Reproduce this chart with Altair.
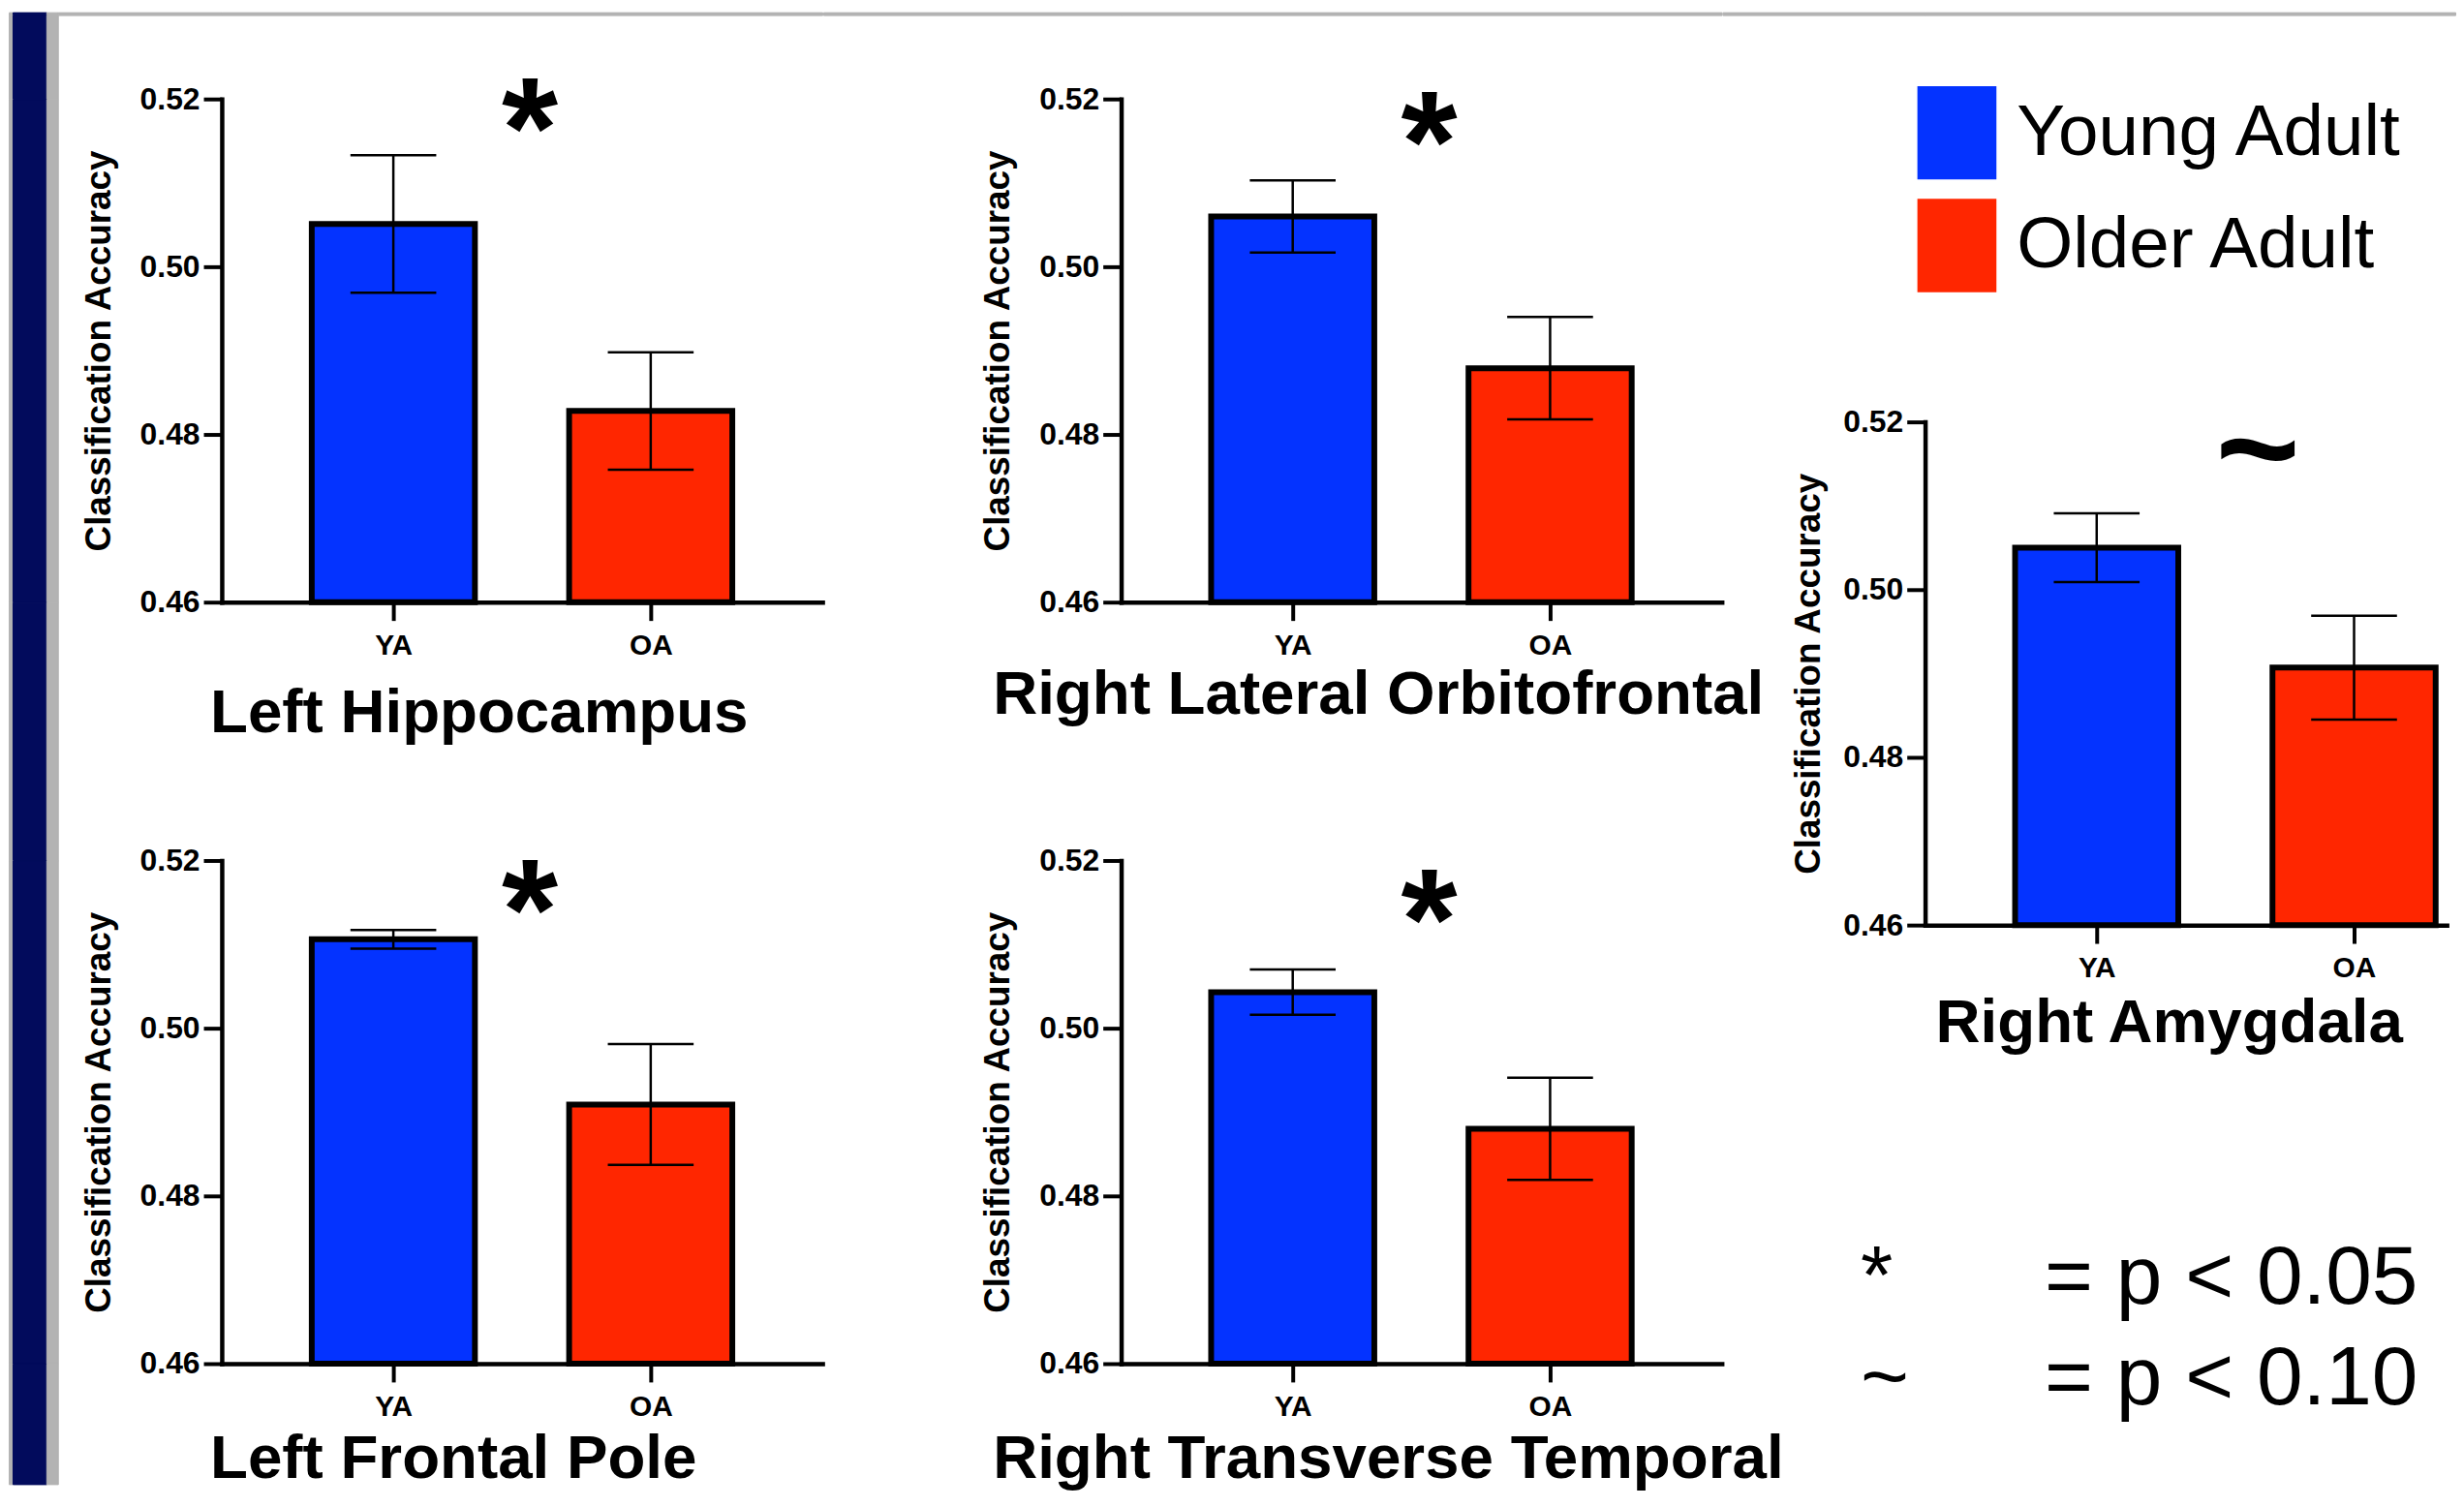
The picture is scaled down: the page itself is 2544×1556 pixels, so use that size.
import altair as alt
import pandas as pd

# ---------------- data ----------------
groups = ["YA", "OA"]
group_names = ["Young Adult", "Older Adult"]
group_colors = ["#0433ff", "#ff2600"]

regions = ["Left Hippocampus", "Right Lateral Orbitofrontal", "Right Amygdala",
           "Left Frontal Pole", "Right Transverse Temporal"]
ya_mean = [0.5051, 0.5060, 0.5050, 0.5106, 0.5043]
ya_sem = [0.0082, 0.0043, 0.0041, 0.0011, 0.0027]
oa_mean = [0.4828, 0.4879, 0.4907, 0.4909, 0.4880]
oa_sem = [0.0070, 0.0061, 0.0062, 0.0072, 0.0061]
sig_marks = ["*", "*", "~", "*", "*"]

key_symbols = ["*", "~"]
key_texts = ["= p < 0.05", "= p < 0.10"]

y_ticks = [0.46, 0.48, 0.50, 0.52]

# ---------------- layout / style ----------------
FONT = "Liberation Sans"
NAVY = "#020b5c"
GREY = "#b3b3b3"
PANEL_H = 522
PX_PER_UNIT = 267.0
X_MIN = 1 / 3
BAR_HALF = 0.317
CAP_HALF = 0.1667
P3_SHIFT = 335  # right-hand panel sits lower than the top row
TITLE_SIZE = 64

layout = {
    0: dict(xmax=2.667, tdx=-12, toff=74.5, sx=1.53, sy=0.52435, ssize=150, tpad=23),
    1: dict(xmax=2.667, tdx=-133, toff=55.5, sx=1.53, sy=0.52272, ssize=150, tpad=23),
    2: dict(xmax=2.36, tdx=11, toff=61.5, sx=1.626, sy=0.52478, ssize=150, tpad=16),
    3: dict(xmax=2.667, tdx=-12, toff=59, sx=1.53, sy=0.52199, ssize=150, tpad=23),
    4: dict(xmax=2.667, tdx=-133, toff=59, sx=1.53, sy=0.52085, ssize=150, tpad=23),
}

col_widths = [4, 35, 12, 170, 623, 309, 623, 210, 550]
row_heights = [3, 87, 522, 268, 522, 125]


def blank(w, h, fill=None):
    c = alt.Chart(pd.DataFrame({"k": [0]})).mark_point(
        opacity=0, size=0, strokeWidth=0).encode(x=alt.value(0), y=alt.value(0))
    if fill is not None:
        return c.properties(width=w, height=h,
                            view=alt.ViewBackground(fill=fill, stroke=fill, strokeWidth=1))
    return c.properties(width=w, height=h)


x_label_expr = "[" + ",".join(f"'{g}'" for g in groups) + "][datum.value - 1]"
legend_expr = (f"datum.label == '{groups[0]}' ? '{group_names[0]}' : '{group_names[1]}'")


def panel(i, show_legend=False, shift=0):
    L = layout[i]
    width = (L["xmax"] - X_MIN) * PX_PER_UNIT
    df = pd.DataFrame({"group": groups, "pos": [1, 2],
                       "mean": [ya_mean[i], oa_mean[i]],
                       "sem": [ya_sem[i], oa_sem[i]]})
    base = alt.Chart(df).transform_calculate(
        lo="datum.mean - datum.sem", hi="datum.mean + datum.sem",
        bx1=f"datum.pos - {BAR_HALF}", bx2=f"datum.pos + {BAR_HALF}",
        cx1=f"datum.pos - {CAP_HALF}", cx2=f"datum.pos + {CAP_HALF}")
    xs = alt.Scale(domain=[X_MIN, L["xmax"]], nice=False, zero=False)
    if shift:
        ys = alt.Scale(domain=[y_ticks[0], y_ticks[-1]], nice=False, zero=False,
                       range=[PANEL_H + shift, shift])
        x_axis = alt.Axis(values=[1, 2], labelExpr=x_label_expr, title=None, offset=shift)
    else:
        ys = alt.Scale(domain=[y_ticks[0], y_ticks[-1]], nice=False, zero=False)
        x_axis = alt.Axis(values=[1, 2], labelExpr=x_label_expr, title=None)
    y_axis = alt.Axis(values=y_ticks, format=".2f", title="Classification Accuracy",
                      titlePadding=L["tpad"])
    if show_legend:
        leg = alt.Legend(title=None, orient="none", legendX=-8, legendY=-6,
                         direction="vertical",
                         symbolType="M-1,-1.18H1V1.18H-1Z", symbolSize=6724,
                         symbolStrokeWidth=0, symbolOpacity=1,
                         labelFont=FONT, labelFontSize=75, labelFontWeight="normal",
                         labelColor="black", labelOffset=21, labelLimit=0,
                         rowPadding=19, padding=0, labelExpr=legend_expr)
    else:
        leg = None
    color = alt.Color("group:N", scale=alt.Scale(domain=groups, range=group_colors),
                      legend=leg)
    bars = base.mark_bar(stroke="black", strokeWidth=6).encode(
        x=alt.X("bx1:Q", scale=xs, axis=x_axis), x2="bx2:Q",
        y=alt.Y("mean:Q", scale=ys, axis=y_axis), y2=alt.datum(y_ticks[0]),
        color=color)
    rule = base.mark_rule(color="black", strokeWidth=2.5).encode(
        x="pos:Q", y="lo:Q", y2="hi:Q")
    cap_top = base.mark_rule(color="black", strokeWidth=2.5).encode(
        x="cx1:Q", x2="cx2:Q", y="hi:Q")
    cap_bot = base.mark_rule(color="black", strokeWidth=2.5).encode(
        x="cx1:Q", x2="cx2:Q", y="lo:Q")
    ann = alt.Chart(pd.DataFrame({"s": [sig_marks[i]]})).mark_text(
        fontSize=L["ssize"], fontWeight="bold", font=FONT, baseline="top",
        align="center", color="black").encode(
        x=alt.datum(L["sx"]), y=alt.datum(L["sy"]), text="s:N")
    return alt.layer(bars, rule, cap_top, cap_bot, ann).properties(
        width=width, height=PANEL_H,
        title=alt.TitleParams(text=regions[i], orient="bottom", anchor="start",
                              frame="group", dx=L["tdx"], offset=L["toff"],
                              baseline="alphabetic", fontSize=TITLE_SIZE,
                              fontWeight="bold", font=FONT, color="black"))


key_rows = []
for r, (s, t) in enumerate(zip(key_symbols, key_texts)):
    key_rows.append({"row": r, "col": "sym", "txt": s})
    key_rows.append({"row": r, "col": "desc", "txt": t})
key = alt.Chart(pd.DataFrame(key_rows)).mark_text(
    align="left", baseline="alphabetic", fontSize=86, font=FONT, color="black").encode(
    x=alt.X("col:N", scale=alt.Scale(type="point", domain=["sym", "desc"],
                                     range=[-67, 124], padding=0), axis=None),
    y=alt.Y("row:O", scale=alt.Scale(type="point", range=[460, 564], padding=0),
            axis=None),
    text="txt:N").properties(width=1, height=1)


def deco(h):
    return [blank(col_widths[0], h, GREY), blank(col_widths[1], h, NAVY),
            blank(col_widths[2], h, GREY)]


cells = []
# row 0: thin grey strip along the top
cells += deco(row_heights[0]) + [blank(w, row_heights[0], GREY) for w in col_widths[3:]]
# row 1: space above the top row
cells += deco(row_heights[1]) + [blank(1, 1) for _ in range(6)]
# row 2: top row of panels (right-hand panel is shifted down inside its cell)
cells += deco(row_heights[2]) + [blank(1, 1), panel(0), blank(1, 1), panel(1),
                                 blank(1, 1), panel(2, True, P3_SHIFT)]
# row 3: gap
cells += deco(row_heights[3]) + [blank(1, 1) for _ in range(6)]
# row 4: bottom row of panels + significance key
cells += deco(row_heights[4]) + [blank(1, 1), panel(3), blank(1, 1), panel(4),
                                 blank(1, 1), key]
# row 5: bottom
cells += deco(row_heights[5]) + [blank(1, 1) for _ in range(6)]

chart = alt.concat(*cells, columns=9, spacing=0, bounds="flush", align="each").resolve_scale(
    color="independent").properties(padding=0)

chart = chart.configure(font=FONT).configure_view(strokeWidth=0).configure_axis(
    grid=False, domainColor="black", tickColor="black", labelColor="black",
    titleColor="black", domainWidth=4.5, tickWidth=4, tickSize=19,
    domainCap="square", labelFont=FONT, titleFont=FONT, labelFontWeight="bold",
    titleFontWeight="bold", labelFlush=False, labelOverlap=False
).configure_axisX(labelFontSize=30, labelPadding=11).configure_axisY(
    labelFontSize=32, labelPadding=4, titleFontSize=37)

chart.save("out.html", embed_options={"renderer": "svg", "actions": False})
